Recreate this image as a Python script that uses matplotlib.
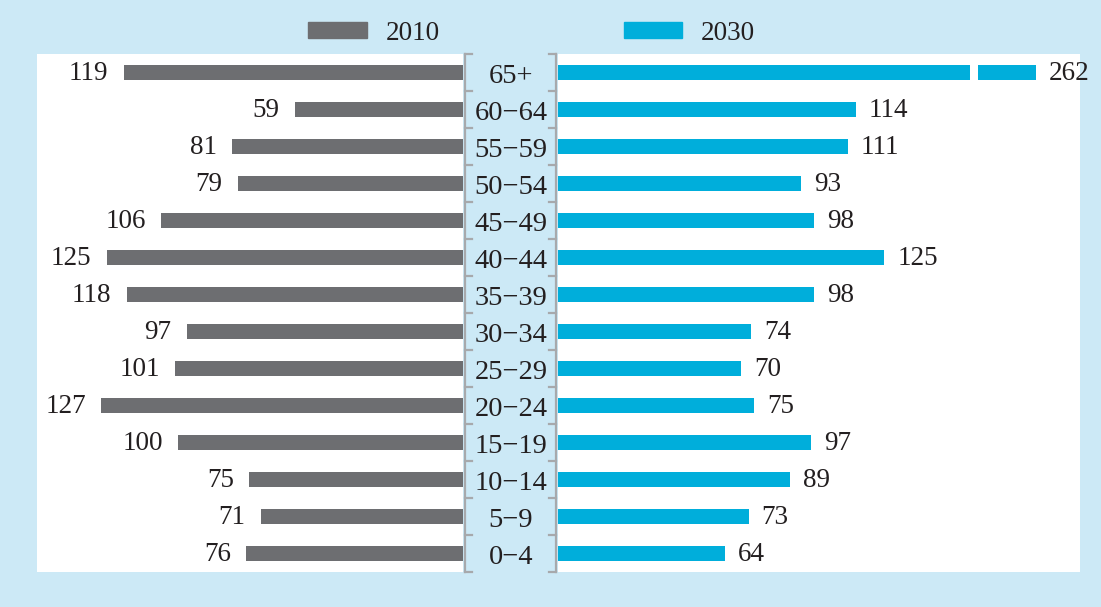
import matplotlib
matplotlib.use("Agg")
import matplotlib.pyplot as plt
from matplotlib.patches import Patch

# data (top to bottom)
ages = ["65+", "60−64", "55−59", "50−54", "45−49", "40−44", "35−39",
        "30−34", "25−29", "20−24", "15−19", "10−14", "5−9", "0−4"]
pop_2010 = [119, 59, 81, 79, 106, 125, 118, 97, 101, 127, 100, 75, 71, 76]
pop_2030 = [262, 114, 111, 93, 98, 125, 98, 74, 70, 75, 97, 89, 73, 64]

GRAY = "#6d6e71"
BLUE = "#00aedb"
BG = "#cce9f6"
TXT = "#231f20"
BRK = "#a7a9ac"

# long bars are drawn broken
CAP = 183
GAP = (158, 161)

plt.rcParams["font.family"] = ["Liberation Serif", "DejaVu Serif"]

W, H = 1101, 607
fig = plt.figure(figsize=(W / 100, H / 100), dpi=100, facecolor=BG)


def px(x0, x1, y0, y1):
    return [x0 / W, 1 - y1 / H, (x1 - x0) / W, (y1 - y0) / H]


n = len(ages)
ypos = list(range(n))[::-1]
bh = 0.43
fs = 19.5

ax_l = fig.add_axes(px(37, 463, 54, 572))
ax_c = fig.add_axes(px(463, 558, 54, 572))
ax_r = fig.add_axes(px(558, 1080, 54, 572))

for ax in (ax_l, ax_c, ax_r):
    ax.set_ylim(-0.5, n - 0.5)
    for s in ax.spines.values():
        s.set_visible(False)
    ax.set_xticks([])
    ax.set_yticks([])

# left side (2010)
ax_l.set_facecolor("white")
ax_l.barh(ypos, pop_2010, height=bh, color=GRAY)
ax_l.set_xlim(426 / 2.85, 0)
for y, v in zip(ypos, pop_2010):
    ax_l.annotate(str(v), (v, y), xytext=(-11, -1), textcoords="offset points",
                  ha="right", va="center", fontsize=fs, color=TXT)

# right side (2030)
ax_r.set_facecolor("white")
ax_r.set_xlim(0, 522 / 2.61)
for y, v in zip(ypos, pop_2030):
    if v > CAP:
        ax_r.barh(y, GAP[0], height=bh, color=BLUE)
        ax_r.barh(y, CAP - GAP[1], left=GAP[1], height=bh, color=BLUE)
        end = CAP
    else:
        ax_r.barh(y, v, height=bh, color=BLUE)
        end = v
    ax_r.annotate(str(v), (end, y), xytext=(9.5, -1), textcoords="offset points",
                  ha="left", va="center", fontsize=fs, color=TXT)

# center age labels with brackets
ax_c.set_facecolor(BG)
ax_c.set_xlim(0, 95)
for y, a in zip(ypos, ages):
    ax_c.text(48, y - 0.12, a, ha="center", va="center", fontsize=20.5, color=TXT)
lw = 1.6
ax_c.plot([1.5, 1.5], [-0.5, n - 0.5], color=BRK, lw=lw, clip_on=False)
ax_c.plot([93.5, 93.5], [-0.5, n - 0.5], color=BRK, lw=lw, clip_on=False)
for k in range(n + 1):
    yb = k - 0.5
    ax_c.plot([1.5, 9], [yb, yb], color=BRK, lw=lw, clip_on=False)
    ax_c.plot([86, 93.5], [yb, yb], color=BRK, lw=lw, clip_on=False)

handles = [Patch(color=GRAY, label="2010"), Patch(color=BLUE, label="2030")]
fig.legend(handles=handles, loc="center", bbox_to_anchor=(0.483, 0.945), ncol=2,
           frameon=False, fontsize=fs, handlelength=2.15, handleheight=0.55,
           handletextpad=0.7, columnspacing=6.8, labelcolor=TXT)

fig.savefig("out.png", dpi=100, facecolor=BG)
